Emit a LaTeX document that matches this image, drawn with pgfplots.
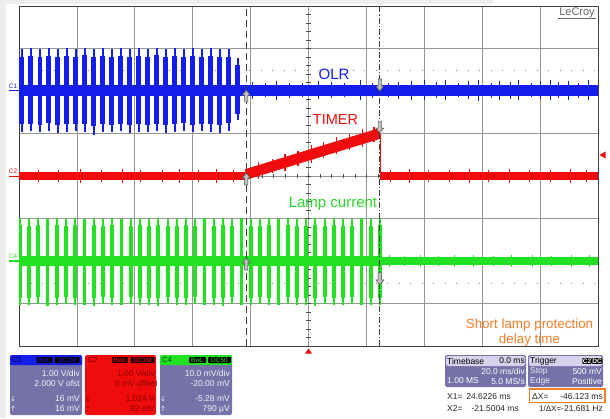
\documentclass[border=0pt]{standalone}
\usepackage{pgfplots}
\pgfplotsset{compat=1.18}
\usepackage{pgfplotstable}
\usepackage{fontspec}
\setmainfont{Liberation Sans}
\newfontfamily\dejavu{DejaVu Sans}

\definecolor{scblue}{RGB}{20,30,235}
\definecolor{scred}{RGB}{240,12,12}
\definecolor{scgreen}{RGB}{34,225,34}
\definecolor{txtgreen}{RGB}{40,215,40}
\definecolor{orng}{RGB}{245,125,40}
\definecolor{panel}{RGB}{118,113,168}
\definecolor{panelhd}{RGB}{214,211,236}
\definecolor{gridc}{RGB}{150,150,150}

\pgfdeclareplotmark{curup}{%
  \pgfpathmoveto{\pgfpoint{0pt}{0pt}}%
  \pgfpathlineto{\pgfpoint{4pt}{-5pt}}%
  \pgfpathlineto{\pgfpoint{1.6pt}{-5pt}}%
  \pgfpathlineto{\pgfpoint{1.6pt}{-12pt}}%
  \pgfpathlineto{\pgfpoint{-1.6pt}{-12pt}}%
  \pgfpathlineto{\pgfpoint{-1.6pt}{-5pt}}%
  \pgfpathlineto{\pgfpoint{-4pt}{-5pt}}%
  \pgfpathclose
  \pgfusepathqfillstroke}
\pgfdeclareplotmark{curdown}{%
  \pgfpathmoveto{\pgfpoint{0pt}{0pt}}%
  \pgfpathlineto{\pgfpoint{4pt}{5pt}}%
  \pgfpathlineto{\pgfpoint{1.6pt}{5pt}}%
  \pgfpathlineto{\pgfpoint{1.6pt}{12pt}}%
  \pgfpathlineto{\pgfpoint{-1.6pt}{12pt}}%
  \pgfpathlineto{\pgfpoint{-1.6pt}{5pt}}%
  \pgfpathlineto{\pgfpoint{-4pt}{5pt}}%
  \pgfpathclose
  \pgfusepathqfillstroke}

% C1 (OLR) bursts: time [ms], centre [div], full extent up/down, core extent up/down [div]
\pgfplotstableread{
x y ep em ip im
-99.00 2.02 0.97 0.98 0.78 0.80
-95.89 2.02 0.99 0.97 0.80 0.79
-92.78 2.02 0.96 0.99 0.77 0.81
-89.68 2.02 0.99 0.96 0.81 0.78
-86.57 2.02 0.98 1.00 0.79 0.82
-83.46 2.02 0.99 0.98 0.80 0.80
-80.35 2.02 0.97 0.97 0.78 0.79
-77.24 2.02 1.00 0.99 0.82 0.80
-74.14 2.02 0.98 1.06 0.79 0.84
-71.03 2.02 0.99 0.98 0.80 0.80
-67.92 2.02 0.97 0.99 0.78 0.81
-64.81 2.02 0.99 0.97 0.81 0.79
-61.70 2.02 0.98 1.01 0.79 0.82
-58.60 2.02 0.99 0.98 0.80 0.80
-55.49 2.02 0.97 0.99 0.78 0.81
-52.38 2.02 1.00 0.97 0.82 0.79
-49.27 2.02 0.98 1.00 0.79 0.82
-46.16 2.02 0.99 0.98 0.80 0.80
-43.06 2.02 0.97 0.96 0.78 0.78
-39.95 2.02 0.99 0.99 0.81 0.81
-36.84 2.02 0.98 0.97 0.79 0.79
-33.73 2.02 0.99 0.98 0.80 0.80
-30.62 2.02 0.97 1.00 0.78 0.82
-27.52 2.02 0.98 0.95 0.79 0.77
-24.41 2.02 0.76 0.70 0.60 0.56
}\blueburst

% C4 (lamp current) bursts
\pgfplotstableread{
x y ep em ip im
-99.70 -2.00 1.01 1.03 0.84 0.86
-96.51 -2.00 1.00 1.04 0.83 0.87
-93.32 -2.00 1.02 1.02 0.85 0.85
-90.13 -2.00 0.99 1.05 0.82 0.88
-86.94 -2.00 1.01 1.03 0.84 0.86
-83.75 -2.00 1.00 1.02 0.83 0.85
-80.56 -2.00 1.02 1.04 0.85 0.87
-77.37 -2.00 0.99 1.03 0.82 0.86
-74.18 -2.00 1.01 1.05 0.84 0.88
-70.99 -2.00 1.00 1.02 0.83 0.85
-67.80 -2.00 1.02 1.04 0.85 0.87
-64.61 -2.00 1.00 1.03 0.83 0.86
-61.42 -2.00 0.99 1.02 0.82 0.85
-58.23 -2.00 1.01 1.04 0.84 0.87
-55.04 -2.00 1.00 1.03 0.83 0.86
-51.85 -2.00 1.02 1.05 0.85 0.88
-48.66 -2.00 1.00 1.02 0.83 0.85
-45.47 -2.00 0.99 1.04 0.82 0.87
-42.28 -2.00 1.01 1.03 0.84 0.86
-39.09 -2.00 1.00 1.02 0.83 0.85
-35.90 -2.00 1.02 1.04 0.85 0.87
-32.71 -2.00 0.99 1.03 0.82 0.86
-29.52 -2.00 1.01 1.05 0.84 0.88
-26.33 -2.00 1.00 1.02 0.83 0.85
-23.14 -2.00 1.02 1.04 0.85 0.87
-19.95 -2.00 1.00 1.03 0.83 0.86
-16.76 -2.00 0.99 1.02 0.82 0.85
-13.57 -2.00 1.01 1.04 0.84 0.87
-10.38 -2.00 1.00 1.03 0.83 0.86
-7.19 -2.00 1.02 1.02 0.85 0.85
-4.00 -2.00 1.00 1.04 0.83 0.87
-0.81 -2.00 0.99 1.03 0.82 0.86
2.38 -2.00 1.01 1.05 0.84 0.88
5.57 -2.00 1.00 1.02 0.83 0.85
8.76 -2.00 1.02 1.04 0.85 0.87
11.95 -2.00 1.00 1.03 0.83 0.86
15.14 -2.00 0.99 1.02 0.82 0.85
18.33 -2.00 1.01 1.04 0.84 0.87
21.52 -2.00 1.00 1.03 0.83 0.86
24.71 -2.00 1.02 1.04 0.85 0.87
}\greenburst

% small noise spikes on the flat parts
\pgfplotstableread{
x y e
-19.3 2.02 0.20
-14.8 2.02 0.17
-11.2 2.02 0.22
-6.5 2.02 0.18
-2.1 2.02 0.16
3.4 2.02 0.21
7.9 2.02 0.19
12.6 2.02 0.17
17.8 2.02 0.23
22.1 2.02 0.18
27.5 2.02 0.16
31.0 2.02 0.20
35.6 2.02 0.22
39.9 2.02 0.24
44.3 2.02 0.19
47.2 2.02 0.23
51.8 2.02 0.17
55.1 2.02 0.21
58.7 2.02 0.25
63.3 2.02 0.18
66.0 2.02 0.22
69.8 2.02 0.20
72.4 2.02 0.24
76.9 2.02 0.17
80.1 2.02 0.21
83.5 2.02 0.23
86.2 2.02 0.19
89.9 2.02 0.22
93.4 2.02 0.18
96.7 2.02 0.24
}\bluenoise

\pgfplotstableread{
x y e
-93.1 0.0 0.15
-86.4 0.0 0.13
-78.8 0.0 0.16
-71.5 0.0 0.14
-64.2 0.0 0.17
-57.9 0.0 0.13
-50.3 0.0 0.15
-44.6 0.0 0.16
-38.1 0.0 0.14
-31.7 0.0 0.17
-26.0 0.0 0.15
28.4 0.0 0.14
34.9 0.0 0.16
41.3 0.0 0.13
48.8 0.0 0.15
55.6 0.0 0.17
62.1 0.0 0.14
69.4 0.0 0.16
76.2 0.0 0.13
83.7 0.0 0.15
90.5 0.0 0.16
96.1 0.0 0.14
}\rednoise

% spikes along the TIMER ramp
\pgfplotstableread{
x y e
-17.2 0.13 0.19
-12.5 0.23 0.17
-8.1 0.32 0.20
-3.6 0.42 0.18
0.9 0.52 0.21
5.3 0.61 0.18
9.8 0.71 0.20
14.1 0.80 0.19
18.7 0.90 0.21
22.6 0.98 0.18
}\rampnoise

\pgfplotstableread{
x y e
27.9 -2.00 0.13
33.2 -2.00 0.12
38.6 -2.00 0.14
44.9 -2.00 0.12
50.4 -2.00 0.13
57.1 -2.00 0.15
63.8 -2.00 0.12
70.2 -2.00 0.14
77.5 -2.00 0.13
84.0 -2.00 0.12
90.7 -2.00 0.14
96.9 -2.00 0.13
}\greennoise

\begin{document}
\begin{tikzpicture}
\path[use as bounding box] (0pt,0pt) rectangle (610pt,418pt);
\fill[white] (0pt,0pt) rectangle (610pt,418pt);
\fill[black!7] (0pt,0pt) rectangle (6pt,418pt);
\fill[black!7] (0pt,414pt) rectangle (493pt,418pt);

\begin{axis}[
  at={(19pt,72pt)}, anchor=south west,
  width=579pt, height=340pt, scale only axis,
  xmin=-100, xmax=100, ymin=-4, ymax=4,
  xtick={-80,-60,...,80}, ytick={-3,-2,...,3},
  xticklabels={}, yticklabels={},
  major tick length=0pt,
  grid=major, grid style={gridc, line width=0.7pt},
  axis line style={black!75, line width=0.9pt},
]
% centre-cross graduations
\pgfplotsinvokeforeach{-96,-92,...,96}{\draw[black!70, line width=0.6pt] (axis cs:#1,-0.05) -- (axis cs:#1,0.05);}
\pgfplotsinvokeforeach{-3.8,-3.6,...,3.8}{\draw[black!70, line width=0.6pt] (axis cs:-0.9,#1) -- (axis cs:0.9,#1);}
% dotted reference lines
\addplot[gray, line width=0.8pt, dash pattern=on 1pt off 10.5pt] coordinates {(-100,2.49) (100,2.49)};
\addplot[gray, line width=0.8pt, dash pattern=on 1pt off 10.5pt] coordinates {(-100,-2.52) (100,-2.52)};

% C1 OLR
\addplot[scblue, line width=11pt] coordinates {(-100,2.02) (100,2.02)};
\addplot[draw=none, mark=none, forget plot,
  error bars/.cd, y dir=both, y explicit, error mark=none,
  error bar style={draw=scblue, line width=2.6pt}]
  table[x=x, y=y, y error plus=ep, y error minus=em] {\blueburst};
\addplot[draw=none, mark=none, forget plot,
  error bars/.cd, y dir=both, y explicit, error mark=none,
  error bar style={draw=scblue, line width=4.8pt}]
  table[x=x, y=y, y error plus=ip, y error minus=im] {\blueburst};
\addplot[draw=none, mark=none, forget plot,
  error bars/.cd, y dir=both, y explicit, error mark=none,
  error bar style={draw=scblue, line width=1pt}]
  table[x=x, y=y, y error=e] {\bluenoise};

% C2 TIMER
\addplot[scred, line width=8pt] coordinates {(-100,0) (-21.5,0)};
\addplot[scred, line width=10.5pt] coordinates {(-21.5,0.04) (24.55,1.0)};
\addplot[scred, line width=0.8pt] coordinates {(24.75,1.0) (24.75,0)};
\addplot[scred, line width=8pt] coordinates {(24.75,0) (100,0)};
\addplot[draw=none, mark=none, forget plot,
  error bars/.cd, y dir=both, y explicit, error mark=none,
  error bar style={draw=scred, line width=1pt}]
  table[x=x, y=y, y error=e] {\rednoise};
\addplot[draw=none, mark=none, forget plot,
  error bars/.cd, y dir=both, y explicit, error mark=none,
  error bar style={draw=scred, line width=1.2pt}]
  table[x=x, y=y, y error=e] {\rampnoise};

% C4 lamp current
\addplot[scgreen, line width=10pt] coordinates {(-100,-2.0) (24.7,-2.0)};
\addplot[scgreen, line width=8pt] coordinates {(24.7,-2.0) (100,-2.0)};
\addplot[draw=none, mark=none, forget plot,
  error bars/.cd, y dir=both, y explicit, error mark=none,
  error bar style={draw=scgreen, line width=2.2pt}]
  table[x=x, y=y, y error plus=ep, y error minus=em] {\greenburst};
\addplot[draw=none, mark=none, forget plot,
  error bars/.cd, y dir=both, y explicit, error mark=none,
  error bar style={draw=scgreen, line width=3.8pt}]
  table[x=x, y=y, y error plus=ip, y error minus=im] {\greenburst};
\addplot[draw=none, mark=none, forget plot,
  error bars/.cd, y dir=both, y explicit, error mark=none,
  error bar style={draw=scgreen, line width=1pt}]
  table[x=x, y=y, y error=e] {\greennoise};

% cursors
\addplot[black!75, line width=0.9pt, dash pattern=on 7pt off 4pt] coordinates {(-21.50,-4) (-21.50,4)};
\addplot[black!75, line width=0.8pt, dash pattern=on 6pt off 2pt on 1.5pt off 2pt] coordinates {(24.62,-4) (24.62,4)};
\addplot[only marks, mark=curup, mark options={fill=black!25, draw=black!65, line width=0.6pt, solid}]
  coordinates {(-21.50,2.02) (-21.50,0.07) (-21.50,-1.93)};
\addplot[only marks, mark=curdown, mark options={fill=black!25, draw=black!65, line width=0.6pt, solid}]
  coordinates {(24.62,2.00) (24.62,1.01) (24.62,-2.56)};
\end{axis}

\begin{scope}[x=1pt, y=1pt]
% channel markers
\node[text=scblue, font=\fontsize{6.5}{7}\selectfont, inner sep=0] at (13,332) {C1};
\draw[scblue, line width=1.2pt] (9,327.3) -- (19,327.3);
\node[text=scred, font=\fontsize{6.5}{7}\selectfont, inner sep=0] at (13,246.3) {C2};
\draw[scred, line width=1.2pt] (9,241.3) -- (19,241.3);
\node[text=scgreen, font=\fontsize{6.5}{7}\selectfont, inner sep=0] at (13,162) {C4};
\draw[scgreen, line width=1.2pt] (9,157) -- (19,157);
% trigger markers
\fill[scred] (599.5,263) -- (605.5,266.5) -- (605.5,259.5) -- cycle;
\fill[scred] (308.5,69.5) -- (305,64.5) -- (312,64.5) -- cycle;

% annotations
\node[anchor=base, text=scblue, font=\fontsize{15}{16}\selectfont, inner sep=0] at (334,338) {OLR};
\node[anchor=base, text=scred, font=\fontsize{14.5}{16}\selectfont, inner sep=0] at (335.5,293) {TIMER};
\node[anchor=base, text=txtgreen, font=\fontsize{15}{16}\selectfont, inner sep=0] at (333,210) {Lamp current};
\node[anchor=base, text=orng, font=\fontsize{13.4}{15}\selectfont, inner sep=0] at (529.5,90) {Short lamp protection};
\node[anchor=base, text=orng, font=\fontsize{13.4}{15}\selectfont, inner sep=0] at (529.5,75) {delay time};
\node[anchor=base, text=black!60, font=\fontsize{11}{12}\selectfont, inner sep=0] at (577,402) {LeCroy};
\draw[black!60, line width=0.8pt] (558,399.5) -- (596,399.5);

% ---- C1 panel
\fill[panel, rounded corners=2pt] (10,3) rectangle (82,63);
\fill[scblue, rounded corners=2pt] (10,53) rectangle (82,63);
\fill[scblue] (10,53) rectangle (82,57);
\node[anchor=west, text=black!80!blue, font=\fontsize{7.5}{8}\selectfont, inner sep=0] at (12,58) {C1};
\node[fill=black, rounded corners=1pt, text=scblue, inner sep=0.7pt, minimum width=16pt, font=\fontsize{6.5}{7}\selectfont] at (44.5,58) {BwL};
\node[fill=black, rounded corners=1pt, text=scblue, inner sep=0.7pt, minimum width=25pt, font=\fontsize{6.5}{7}\selectfont] at (67,58) {DC1M};
\begin{scope}[every node/.style={inner sep=0, text=white!92!panel, font=\fontsize{8.5}{9}\selectfont}]
\node[anchor=east] at (80,44.5) {1.00 V/div};
\node[anchor=east] at (80,34.5) {2.000 V ofst};
\node[anchor=east] at (80,19) {16 mV};
\node[anchor=east] at (80,9) {16 mV};
\node[font=\dejavu\fontsize{7}{7}\selectfont] at (13,19) {↓};
\node[font=\dejavu\fontsize{7}{7}\selectfont] at (13,9) {↑};
\end{scope}

% ---- C2 panel
\fill[scred, rounded corners=2pt] (85,3) rectangle (156,63);
\node[anchor=west, text=black!55!red, font=\fontsize{7.5}{8}\selectfont, inner sep=0] at (88,58) {C2};
\node[fill=black!85!red, rounded corners=1pt, text=scred, inner sep=0.7pt, minimum width=16pt, font=\fontsize{6.5}{7}\selectfont] at (120,58) {BwL};
\node[fill=black!85!red, rounded corners=1pt, text=scred, inner sep=0.7pt, minimum width=24pt, font=\fontsize{6.5}{7}\selectfont] at (142.5,58) {DC1M};
\begin{scope}
\clip (85,3) rectangle (156,63);
\begin{scope}[every node/.style={inner sep=0, text=black!45!red, font=\fontsize{8.5}{9}\selectfont}]
\node[anchor=east] at (155,44.5) {1.00 V/div};
\node[anchor=east] at (158,34.5) {0 mV offset};
\node[anchor=east] at (155,19) {1.024 V};
\node[anchor=east] at (155,9) {92 mV};
\node[font=\dejavu\fontsize{7}{7}\selectfont] at (88,19) {↓};
\node[font=\dejavu\fontsize{7}{7}\selectfont] at (88,9) {↑};
\end{scope}
\end{scope}

% ---- C4 panel
\fill[panel, rounded corners=2pt] (160,3) rectangle (232,63);
\fill[scgreen, rounded corners=2pt] (160,53) rectangle (232,63);
\fill[scgreen] (160,53) rectangle (232,57);
\node[anchor=west, text=black!75!green, font=\fontsize{7.5}{8}\selectfont, inner sep=0] at (162,58) {C4};
\node[fill=black, rounded corners=1pt, text=scgreen, inner sep=0.7pt, minimum width=17pt, font=\fontsize{6.5}{7}\selectfont] at (197.5,58) {BwL};
\node[fill=black, rounded corners=1pt, text=scgreen, inner sep=0.7pt, minimum width=23pt, font=\fontsize{6.5}{7}\selectfont] at (219.5,58) {DC50};
\begin{scope}[every node/.style={inner sep=0, text=white!92!panel, font=\fontsize{8.5}{9}\selectfont}]
\node[anchor=east] at (230,44.5) {10.0 mV/div};
\node[anchor=east] at (230,34.5) {-20.00 mV};
\node[anchor=east] at (230,19) {-5.28 mV};
\node[anchor=east] at (230,9) {790 µV};
\node[font=\dejavu\fontsize{7}{7}\selectfont] at (163,19) {↓};
\node[font=\dejavu\fontsize{7}{7}\selectfont] at (163,9) {↑};
\end{scope}

% ---- Timebase panel
\fill[panel, rounded corners=2pt] (445,31) rectangle (526,63);
\fill[panelhd, rounded corners=2pt] (446,52) rectangle (525,62);
\begin{scope}[every node/.style={inner sep=0, font=\fontsize{8.5}{9}\selectfont}]
\node[anchor=west, text=black] at (447,57) {Timebase};
\node[anchor=east, text=black] at (525,57) {0.0 ms};
\node[anchor=east, text=white] at (525,46.5) {20.0 ms/div};
\node[anchor=west, text=white] at (447,37) {1.00 MS};
\node[anchor=east, text=white] at (525,37) {5.0 MS/s};
\end{scope}

% ---- Trigger panel
\fill[panel, rounded corners=2pt] (528,31) rectangle (603,63);
\fill[panelhd, rounded corners=2pt] (529,52) rectangle (602,62);
\begin{scope}[every node/.style={inner sep=0, font=\fontsize{8.5}{9}\selectfont}]
\node[anchor=west, text=black] at (530,57) {Trigger};
\node[fill=black, rounded corners=1pt, inner sep=0.6pt, text=white, font=\fontsize{6.5}{7}\selectfont\bfseries] at (587,57) {C2};
\node[fill=black, rounded corners=1pt, inner sep=0.6pt, text=white, font=\fontsize{6.5}{7}\selectfont\bfseries] at (597,57) {DC};
\node[anchor=west, text=white!85!panel] at (530,46.5) {Stop};
\node[anchor=east, text=white] at (602,46.5) {500 mV};
\node[anchor=west, text=white!85!panel] at (530,37) {Edge};
\node[anchor=east, text=white] at (602,37) {Positive};
\end{scope}

% ---- cursor readouts
\draw[orng, line width=1.1pt] (529.5,15.5) rectangle (605,29);
\begin{scope}[every node/.style={inner sep=0, text=black!85, font=\fontsize{8.5}{10}\selectfont}]
\node[anchor=west] at (447,21.3) {X1=};
\node[anchor=east] at (511,21.3) {24.6226 ms};
\node[anchor=west] at (447,9) {X2=};
\node[anchor=east] at (519,9) {-21.5004 ms};
\node[anchor=west] at (532,21.3) {ΔX=};
\node[anchor=east] at (603,21.3) {-46.123 ms};
\node[anchor=west, font=\fontsize{8}{10}\selectfont] at (539,9) {1/ΔX=};
\node[anchor=east] at (603,9) {-21.681 Hz};
\end{scope}
\end{scope}
\end{tikzpicture}
\end{document}
